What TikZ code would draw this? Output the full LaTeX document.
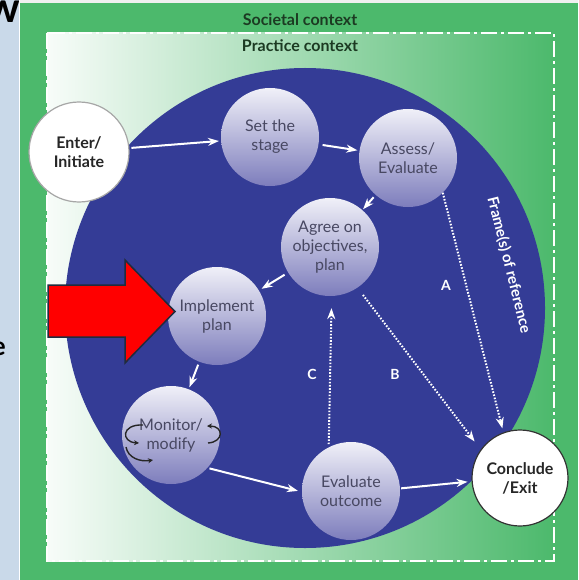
\documentclass[tikz,border=0pt]{standalone}
\usepackage{fontspec}
\setmainfont{Lato}
\usetikzlibrary{arrows.meta}
\definecolor{stripblue}{RGB}{201,217,233}
\definecolor{framegreen}{RGB}{76,185,108}
\definecolor{bigblue}{RGB}{52,60,150}
\definecolor{nodetop}{RGB}{240,240,248}
\definecolor{nodebot}{RGB}{125,125,188}
\definecolor{nodetext}{RGB}{72,72,98}
\definecolor{ctxtext}{RGB}{28,58,34}
\definecolor{arrowedge}{RGB}{32,44,62}
\tikzset{
  stepnode/.style={circle, minimum size=98pt, inner sep=0pt, top color=nodetop, bottom color=nodebot,
    text=nodetext, align=center, font=\fontsize{16}{19}\selectfont},
  endnode/.style={circle, minimum size=100pt, inner sep=0pt, fill=white, line width=1.2pt,
    text=black!85, align=center, font=\bfseries\fontsize{16}{19}\selectfont},
  flow/.style={white, line width=2pt, -{Stealth[length=11pt,width=8pt]}},
  dotflow/.style={white, line width=2pt, dash pattern=on 1.6pt off 1.6pt, -{Stealth[length=11pt,width=8pt]}},
  lbl/.style={white, font=\bfseries\fontsize{14}{14}\selectfont},
  ctx/.style={text=ctxtext, font=\bfseries\fontsize{16}{16}\selectfont},
  cyc/.style={black!85, line width=1.4pt, -{Stealth[length=5pt,width=5pt]}}
}
\begin{document}
\begin{tikzpicture}[x=1pt,y=-1pt]
\useasboundingbox (0,0) rectangle (578,580);
% left strip of slide
\fill[stripblue] (0,0) rectangle (20,580);
\begin{scope}
  \clip (0,0) rectangle (19,580);
  \node[font=\bfseries\fontsize{42}{42}\selectfont, anchor=base east, inner sep=0pt] (fragw) at (20,23) {w};
  \node[font=\bfseries\fontsize{26}{26}\selectfont, anchor=base east, inner sep=0pt] (frage) at (6,355) {e};
\end{scope}
\draw[white, line width=1pt] (19.5,0) -- (19.5,580);
% societal frame
\fill[white!88!gray] (20,0) rectangle (578,3);
\fill[framegreen] (20,3) rectangle (578,580);
% practice context
\shade[left color=white!96!framegreen, middle color=white!62!framegreen, right color=framegreen] (47,33) rectangle (554,561);
\draw[white, line width=2.5pt, dash pattern=on 16pt off 4pt on 3pt off 4pt] (47,33) rectangle (554,561);
\node[ctx] (societal) at (300,20) {Societal context};
\node[ctx] (practice) at (300,46) {Practice context};
% big circle
\node[circle, fill=bigblue, minimum size=480pt, inner sep=0pt] (frame) at (305,308) {};
\node[white, rotate=-76, font=\bfseries\fontsize{15}{15}\selectfont] (frametext) at (509,265) {Frame(s) of reference};
% nodes
\node[endnode, draw=gray!70] (enter) at (79,152) {Enter/\\Initiate};
\node[stepnode] (stage) at (270,137) {Set the\\stage};
\node[stepnode] (assess) at (408,158) {Assess/\\Evaluate};
\node[stepnode] (agree) at (330,247) {Agree on\\objectives,\\plan};
\node[stepnode] (implement) at (217,316) {Implement\\plan};
\node[stepnode] (monitor) at (171,435) {Monitor/\\modify};
\node[stepnode] (evaluate) at (351,491) {Evaluate\\outcome};
\node[endnode, draw=black!80, minimum size=96pt] (conclude) at (520,478) {Conclude\\/Exit};
% cycle marks in monitor
\draw[cyc] (143,425) .. controls (121,424) and (121,442) .. (139,443);
\draw[cyc] (126,447) .. controls (128,458) and (140,462) .. (153,460);
\draw[cyc] (208,443) .. controls (224,442) and (224,426) .. (207,426);
% solid flow
\draw[flow, shorten <=2pt, shorten >=2pt] (enter) -- (stage);
\draw[flow, shorten <=4pt, shorten >=2pt] (stage) -- (assess);
\draw[flow, shorten <=3pt, shorten >=1pt] (assess) -- (agree);
\draw[flow, shorten <=4pt, shorten >=3pt] (agree) -- (implement);
\draw[flow, shorten <=3pt, shorten >=2pt] (implement) -- (monitor);
\draw[flow, shorten <=2pt, shorten >=4pt] (monitor.-42) -- (evaluate.181);
\draw[flow, shorten <=1pt, shorten >=4pt] (evaluate.3) -- (conclude.184);
% dotted flows
\draw[dotflow, shorten >=4pt] (assess.-45) -- (conclude.110);
\draw[dotflow, shorten <=9pt, shorten >=10pt] (agree.-56) -- (conclude.144);
\draw[dotflow, shorten <=3pt, shorten >=12pt] (evaluate.117) -- (agree.-88);
\node[lbl] (la) at (446,285) {A};
\node[lbl] (lb) at (395,374) {B};
\node[lbl] (lc) at (312,374) {C};
% red arrow
\draw[fill=red, draw=arrowedge, line width=1.5pt, line join=miter]
  (48,285) -- (125,285) -- (125,260) -- (175,311.5) -- (125,363) -- (125,337) -- (48,337) -- cycle;
\coordinate (redtip) at (175,311.5);
\end{tikzpicture}
\end{document}
